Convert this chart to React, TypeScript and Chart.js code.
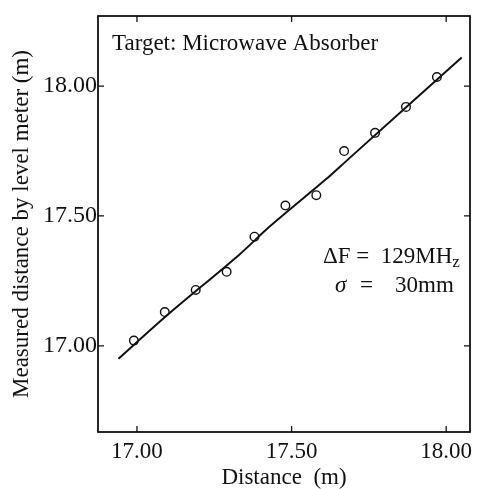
import React, { useEffect, useRef } from "react";
import { Chart, registerables } from "chart.js";

Chart.register(...registerables);

// Measured points (hollow circles)
const distance = [16.99, 17.09, 17.19, 17.29, 17.38, 17.48, 17.58, 17.67, 17.77, 17.87, 17.97];
const measured = [17.02, 17.13, 17.215, 17.285, 17.42, 17.54, 17.58, 17.75, 17.82, 17.92, 18.035];
// Fitted curve
const fitX = [16.94, 17.09, 17.33, 17.43, 17.61, 17.68, 18.05];
const fitY = [16.95, 17.11, 17.35, 17.46, 17.64, 17.715, 18.11];
// Tick labels
const tickValues = [17.0, 17.5, 18.0];

const FONT = '"Liberation Serif", "Times New Roman", serif';

const framePlugin = {
  id: "frame",
  afterDraw(chart: any) {
    const { ctx, chartArea } = chart;
    const { left, right, top, bottom } = chartArea;
    const xs = chart.scales.x;
    const ys = chart.scales.y;
    ctx.save();
    ctx.strokeStyle = "#111";
    ctx.lineWidth = 1.8;
    ctx.strokeRect(left, top, right - left, bottom - top);
    const tl = 6;
    ctx.lineWidth = 1.3;
    ctx.beginPath();
    for (const v of tickValues) {
      const px = xs.getPixelForValue(v);
      ctx.moveTo(px, bottom);
      ctx.lineTo(px, bottom - tl);
      ctx.moveTo(px, top);
      ctx.lineTo(px, top + tl);
      const py = ys.getPixelForValue(v);
      ctx.moveTo(left, py);
      ctx.lineTo(left + tl, py);
      ctx.moveTo(right, py);
      ctx.lineTo(right - tl, py);
    }
    ctx.stroke();

    ctx.fillStyle = "#111";
    ctx.textBaseline = "alphabetic";
    ctx.textAlign = "left";
    ctx.font = `23px ${FONT}`;
    ctx.fillText("Target: Microwave Absorber", left + 14, top + 34);

    ctx.font = `23px ${FONT}`;
    const ly1 = top + 247;
    const t1 = "\u0394F =  129MH";
    ctx.fillText(t1, right - 147, ly1);
    const w1 = ctx.measureText(t1).width;
    ctx.font = `17px ${FONT}`;
    ctx.fillText("z", right - 147 + w1, ly1 + 4);

    ctx.font = `italic 23px ${FONT}`;
    const ly2 = top + 276;
    ctx.fillText("\u03C3", right - 135, ly2);
    ctx.font = `23px ${FONT}`;
    ctx.fillText("=", right - 110, ly2);
    ctx.fillText("30mm", right - 75, ly2);
    ctx.restore();
  },
};

export default function App() {
  const ref = useRef<HTMLCanvasElement | null>(null);
  useEffect(() => {
    document.body.style.margin = "0";
    const canvas = ref.current!;
    const chart = new Chart(canvas, {
      type: "scatter",
      data: {
        datasets: [
          {
            type: "line",
            data: fitX.map((x, i) => ({ x, y: fitY[i] })),
            borderColor: "#111",
            borderWidth: 2,
            pointRadius: 0,
            tension: 0.3,
            fill: false,
          } as any,
          {
            data: distance.map((x, i) => ({ x, y: measured[i] })),
            pointRadius: 4.3,
            pointBackgroundColor: "#fff",
            pointBorderColor: "#111",
            pointBorderWidth: 1.4,
            showLine: false,
          },
        ],
      },
      options: {
        responsive: false,
        animation: false,
        layout: { padding: { top: 16, right: 13, left: 0, bottom: 0 } },
        plugins: { legend: { display: false }, tooltip: { enabled: false } },
        scales: {
          x: {
            type: "linear",
            min: 16.874,
            max: 18.077,
            afterBuildTicks: (s: any) => {
              s.ticks = tickValues.map((v) => ({ value: v }));
            },
            afterFit: (s: any) => {
              s.height = 57;
            },
            grid: { display: false, drawTicks: false },
            border: { display: false },
            ticks: {
              color: "#111",
              padding: 6,
              maxRotation: 0,
              font: { family: FONT, size: 23 },
              callback: (v: any) => Number(v).toFixed(2),
            },
            title: {
              display: true,
              text: "Distance\u2002(m)",
              color: "#111",
              font: { family: FONT, size: 23 },
              padding: { top: 0, bottom: -3 },
            },
          },
          y: {
            type: "linear",
            min: 16.668,
            max: 18.27,
            afterBuildTicks: (s: any) => {
              s.ticks = tickValues.map((v) => ({ value: v }));
            },
            afterFit: (s: any) => {
              s.width = 98;
            },
            grid: { display: false, drawTicks: false },
            border: { display: false },
            ticks: {
              color: "#111",
              padding: 1,
              font: { family: FONT, size: 24 },
              callback: (v: any) => Number(v).toFixed(2),
            },
            title: {
              display: true,
              text: "Measured distance by level meter (m)",
              color: "#111",
              font: { family: FONT, size: 23 },
              padding: { top: 8, bottom: 0 },
            },
          },
        },
      },
      plugins: [framePlugin],
    });
    return () => chart.destroy();
  }, []);
  return (
    <div style={{ position: "relative", width: 483, height: 489, background: "#fff" }}>
      <canvas ref={ref} width={483} height={489} />
    </div>
  );
}
